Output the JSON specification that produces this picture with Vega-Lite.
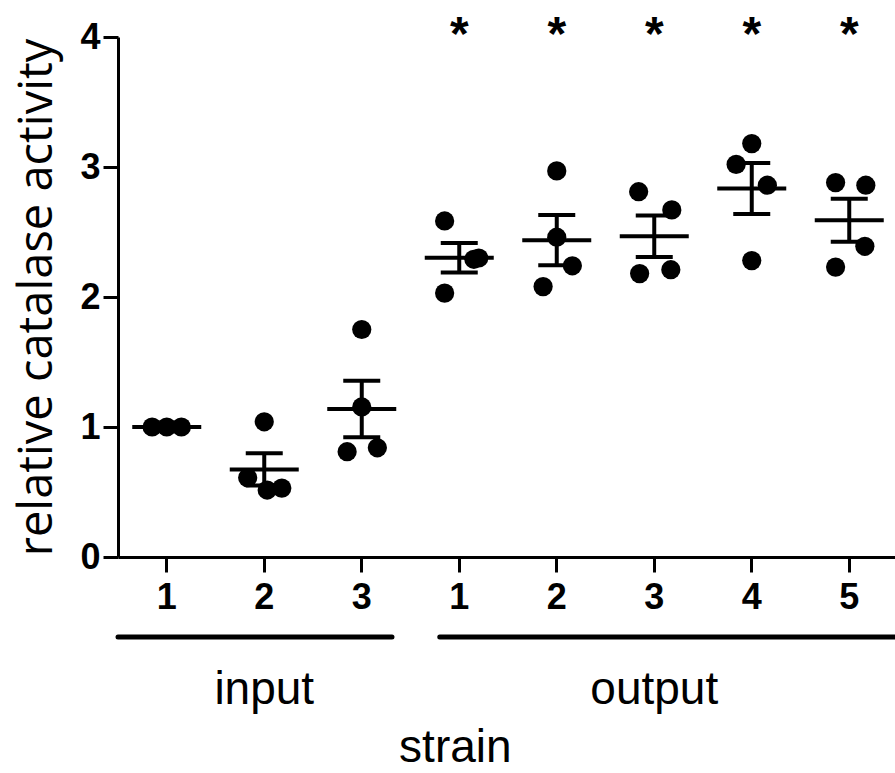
{
  "$schema": "https://vega.github.io/schema/vega-lite/v6.json",
  "width": 780,
  "height": 520,
  "autosize": "none",
  "padding": {"left": 118, "top": 37, "right": 0, "bottom": 216},
  "background": "white",
  "config": {"view": {"stroke": null}, "font": "Liberation Sans"},
  "datasets": {
    "points": [
      {"group": "input-1", "value": 1.0, "jitter": -0.15},
      {"group": "input-1", "value": 1.0, "jitter": 0.0},
      {"group": "input-1", "value": 1.0, "jitter": 0.15},
      {"group": "input-2", "value": 1.04, "jitter": 0.0},
      {"group": "input-2", "value": 0.61, "jitter": -0.17},
      {"group": "input-2", "value": 0.515, "jitter": 0.03},
      {"group": "input-2", "value": 0.53, "jitter": 0.18},
      {"group": "input-3", "value": 1.75, "jitter": 0.0},
      {"group": "input-3", "value": 1.154, "jitter": 0.0},
      {"group": "input-3", "value": 0.81, "jitter": -0.15},
      {"group": "input-3", "value": 0.84, "jitter": 0.16},
      {"group": "output-1", "value": 2.585, "jitter": -0.15},
      {"group": "output-1", "value": 2.03, "jitter": -0.15},
      {"group": "output-1", "value": 2.29, "jitter": 0.15},
      {"group": "output-1", "value": 2.3, "jitter": 0.2},
      {"group": "output-2", "value": 2.97, "jitter": 0.0},
      {"group": "output-2", "value": 2.46, "jitter": 0.0},
      {"group": "output-2", "value": 2.24, "jitter": 0.16},
      {"group": "output-2", "value": 2.08, "jitter": -0.14},
      {"group": "output-3", "value": 2.81, "jitter": -0.16},
      {"group": "output-3", "value": 2.67, "jitter": 0.18},
      {"group": "output-3", "value": 2.18, "jitter": -0.15},
      {"group": "output-3", "value": 2.21, "jitter": 0.17},
      {"group": "output-4", "value": 3.18, "jitter": 0.0},
      {"group": "output-4", "value": 3.02, "jitter": -0.16},
      {"group": "output-4", "value": 2.86, "jitter": 0.16},
      {"group": "output-4", "value": 2.28, "jitter": 0.0},
      {"group": "output-5", "value": 2.88, "jitter": -0.14},
      {"group": "output-5", "value": 2.86, "jitter": 0.17},
      {"group": "output-5", "value": 2.39, "jitter": 0.16},
      {"group": "output-5", "value": 2.23, "jitter": -0.14}
    ],
    "stars": [
      {"group": "output-1", "mark": "*"},
      {"group": "output-2", "mark": "*"},
      {"group": "output-3", "mark": "*"},
      {"group": "output-4", "mark": "*"},
      {"group": "output-5", "mark": "*"}
    ],
    "sets": [
      {"label": "input", "from": 0.0, "to": 2.81, "mid": 1.5},
      {"label": "output", "from": 3.3, "to": 8.0, "mid": 5.5}
    ],
    "axisTitle": [
      {"label": "strain", "pos": 3.46}
    ]
  },
  "layer": [
    {
      "encoding": {
        "x": {
          "field": "group",
          "type": "nominal",
          "sort": null,
          "scale": {"paddingInner": 0, "paddingOuter": 0},
          "axis": {
            "title": null,
            "labelExpr": "split(datum.value, '-')[1]",
            "labelAngle": 0,
            "labelFontSize": 36,
            "labelFontWeight": "bold",
            "labelColor": "black",
            "labelPadding": 8,
            "domainColor": "black",
            "domainWidth": 3,
            "tickColor": "black",
            "tickWidth": 3,
            "tickSize": 15
          }
        }
      },
      "layer": [
        {
          "data": {"name": "points"},
          "mark": {"type": "circle", "size": 370, "color": "black", "opacity": 1},
          "encoding": {
            "xOffset": {"field": "jitter", "type": "quantitative", "scale": {"domain": [-0.5, 0.5], "range": [0, 97.5]}},
            "y": {
              "field": "value",
              "type": "quantitative",
              "title": "relative catalase activity",
              "scale": {"domain": [0, 4], "nice": false},
              "axis": {
                "title": "relative catalase activity",
                "titleFont": "Open Sans",
                "titleFontSize": 47,
                "titleFontWeight": "normal",
                "titleColor": "black",
                "titlePadding": 18,
                "values": [0, 1, 2, 3, 4],
                "format": "d",
                "grid": false,
                "labelFontSize": 36,
                "labelFontWeight": "bold",
                "labelColor": "black",
                "labelPadding": 3,
                "domainColor": "black",
                "domainWidth": 3,
                "tickColor": "black",
                "tickWidth": 3,
                "tickSize": 15
              }
            }
          }
        },
        {
          "data": {"name": "points"},
          "mark": {"type": "errorbar", "extent": "stderr", "thickness": 4, "color": "black", "opacity": 1, "ticks": {"size": 37, "thickness": 4, "color": "black", "opacity": 1}, "rule": {"strokeWidth": 4, "color": "black", "opacity": 1}},
          "encoding": {
            "y": {"field": "value", "type": "quantitative", "title": "relative catalase activity", "scale": {"domain": [0, 4], "nice": false}}
          }
        },
        {
          "data": {"name": "points"},
          "mark": {"type": "tick", "size": 69, "thickness": 4, "color": "black", "opacity": 1},
          "encoding": {
            "y": {"aggregate": "mean", "field": "value", "type": "quantitative", "title": "relative catalase activity", "scale": {"domain": [0, 4], "nice": false}}
          }
        },
        {
          "data": {"name": "stars"},
          "mark": {"type": "text", "fontSize": 48, "fontWeight": "bold", "color": "black", "align": "center", "baseline": "alphabetic"},
          "encoding": {
            "y": {"datum": 3.9, "type": "quantitative", "scale": {"domain": [0, 4], "nice": false}},
            "text": {"field": "mark"}
          }
        }
      ]
    },
    {
      "encoding": {
        "y": {"datum": -0.615, "type": "quantitative", "scale": {"domain": [0, 4], "nice": false}}
      },
      "layer": [
        {
          "data": {"name": "sets"},
          "mark": {"type": "rule", "strokeWidth": 5, "strokeCap": "round", "color": "black"},
          "encoding": {
            "x": {"field": "from", "type": "quantitative", "scale": {"domain": [0, 8], "nice": false, "zero": false}, "axis": null},
            "x2": {"field": "to"}
          }
        },
        {
          "data": {"name": "sets"},
          "mark": {"type": "text", "fontSize": 46, "color": "black", "align": "center", "baseline": "middle"},
          "encoding": {
            "x": {"field": "mid", "type": "quantitative", "scale": {"domain": [0, 8], "nice": false, "zero": false}, "axis": null},
            "y": {"datum": -1.02, "type": "quantitative", "scale": {"domain": [0, 4], "nice": false}},
            "text": {"field": "label"}
          }
        },
        {
          "data": {"name": "axisTitle"},
          "mark": {"type": "text", "fontSize": 46, "color": "black", "align": "center", "baseline": "middle"},
          "encoding": {
            "x": {"field": "pos", "type": "quantitative", "scale": {"domain": [0, 8], "nice": false, "zero": false}, "axis": null},
            "y": {"datum": -1.47, "type": "quantitative", "scale": {"domain": [0, 4], "nice": false}},
            "text": {"field": "label"}
          }
        }
      ]
    }
  ],
  "resolve": {"scale": {"x": "independent"}}
}
